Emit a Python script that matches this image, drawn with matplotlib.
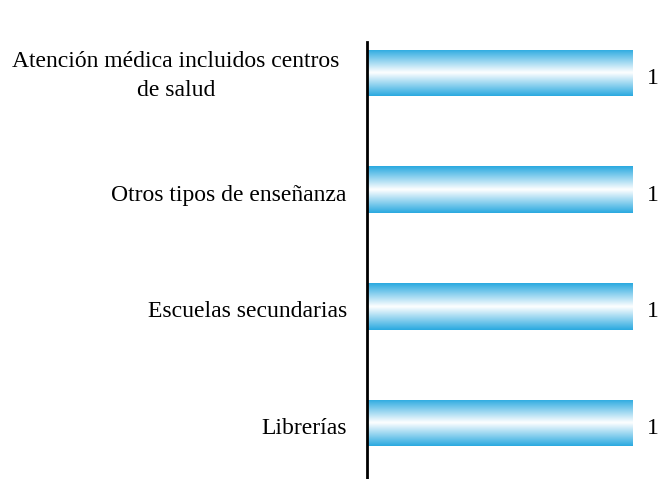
import numpy as np
import matplotlib.pyplot as plt
from matplotlib.colors import LinearSegmentedColormap
from matplotlib.transforms import ScaledTranslation

categorias = ['Atención médica incluidos centros\nde salud',
              'Otros tipos de enseñanza',
              'Escuelas secundarias',
              'Librerías']
valores = [1, 1, 1, 1]

plt.rcParams['font.family'] = ['Liberation Serif', 'DejaVu Serif']

fig = plt.figure(figsize=(6.59, 4.79), dpi=100)
ax = fig.add_axes([367 / 659, 0, 266 / 659, 437 / 479])

y = np.arange(len(categorias))
barras = ax.barh(y, valores, height=0.4, color='none', edgecolor='none')

# degradado azul-blanco-azul en cada barra
cmap = LinearSegmentedColormap.from_list('azul', ['#29a9e0', '#ffffff', '#29a9e0'])
grad = np.linspace(0, 1, 256).reshape(-1, 1)
bajar = ScaledTranslation(0, -3 / 100, fig.dpi_scale_trans)
for b, v in zip(barras, valores):
    x0, y0, w, h = b.get_x(), b.get_y(), b.get_width(), b.get_height()
    im = ax.imshow(grad, cmap=cmap, aspect='auto', extent=(x0, x0 + w, y0, y0 + h),
                   interpolation='bicubic', zorder=2)
    im.set_clip_path(b)
    ax.text(x0 + w + 0.074, y0 + h / 2, str(v), va='center_baseline', ha='center',
            fontsize=17, transform=ax.transData + bajar)

ax.set_xlim(0, 1)
ax.set_ylim(len(categorias) - 1 + 0.48, -0.265)
ax.set_yticks(y)
ax.set_yticklabels(categorias, fontsize=17, multialignment='center', linespacing=1.45)
ax.tick_params(axis='y', length=0, pad=14.5)
# la etiqueta de dos lineas queda algo mas a la izquierda y arriba
etiquetas = ax.get_yticklabels()
etiquetas[0].set_transform(etiquetas[0].get_transform()
                           + ScaledTranslation(-7 / 100, 3 / 100, fig.dpi_scale_trans))
for lab in etiquetas[1:]:
    lab.set_transform(lab.get_transform() + bajar)
ax.set_xticks([])
for s in ['top', 'right', 'bottom']:
    ax.spines[s].set_visible(False)
ax.spines['left'].set_linewidth(2)

fig.savefig('out.png', dpi=100)
